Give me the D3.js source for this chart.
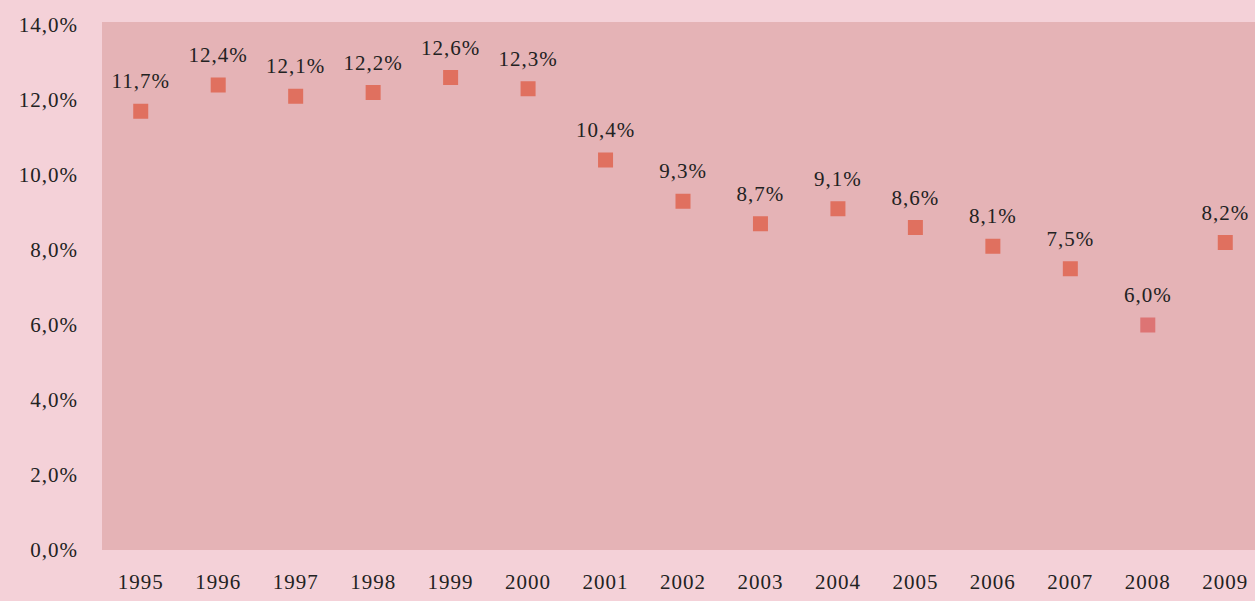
<!DOCTYPE html>
<html>
<head>
<meta charset="utf-8">
<script src="https://cdn.jsdelivr.net/npm/d3@7"></script>
<style>
  body { margin: 0; background: #f4d1d8; }
  svg { display: block; }
</style>
</head>
<body>
<div id="chart"></div>
<script>
// data
const years = ["1995", "1996", "1997", "1998", "1999", "2000", "2001", "2002",
               "2003", "2004", "2005", "2006", "2007", "2008", "2009"];
const rates = [11.7, 12.4, 12.1, 12.2, 12.6, 12.3, 10.4, 9.3,
               8.7, 9.1, 8.6, 8.1, 7.5, 6.0, 8.2];
const yTicks = [0, 2, 4, 6, 8, 10, 12, 14];

const W = 1255, H = 601;
const margin = {top: 22, right: -9, bottom: 51, left: 102};
const serif = "'Liberation Serif', 'Times New Roman', serif";

const svg = d3.select("#chart").append("svg")
    .attr("width", W)
    .attr("height", H)
    .style("font-family", serif);

svg.append("rect")
    .attr("width", W).attr("height", H)
    .attr("fill", "#f4d1d8");

const x = d3.scaleBand()
    .domain(years)
    .range([margin.left, W - margin.right]);

const y = d3.scaleLinear()
    .domain([0, 14])
    .range([H - margin.bottom, margin.top + 3]);

// plot area
svg.append("rect")
    .attr("x", margin.left)
    .attr("y", margin.top)
    .attr("width", W - margin.left)
    .attr("height", H - margin.bottom - margin.top)
    .attr("fill", "#e5b3b6");

const fmt = v => v.toFixed(1).replace(".", ",") + "%";

// y axis
const yAxis = svg.append("g")
    .attr("transform", `translate(${margin.left - 24},0)`)
    .call(d3.axisLeft(y).tickValues(yTicks).tickFormat(fmt).tickSize(0).tickPadding(0))
    .attr("font-family", serif);
yAxis.select(".domain").remove();
yAxis.selectAll("text")
    .attr("fill", "#222")
    .style("font-size", "21px")
    .style("letter-spacing", "1px");

// x axis
const xAxis = svg.append("g")
    .attr("transform", `translate(0,${H - margin.bottom})`)
    .call(d3.axisBottom(x).tickSize(0).tickPadding(24))
    .attr("font-family", serif);
xAxis.select(".domain").remove();
xAxis.selectAll("text")
    .attr("fill", "#222")
    .style("font-size", "21px")
    .style("letter-spacing", "1px");

// markers
const size = 15;
svg.append("g")
    .selectAll("rect")
    .data(years)
    .join("rect")
    .attr("x", d => x(d) + x.bandwidth() / 2 - size / 2)
    .attr("y", (d, i) => y(rates[i]) - size / 2)
    .attr("width", size)
    .attr("height", size)
    .attr("fill", (d, i) => d === "2008" ? "#dd7474" : "#e0705f");

// value labels
svg.append("g")
    .attr("text-anchor", "middle")
    .selectAll("text")
    .data(years)
    .join("text")
    .attr("x", d => x(d) + x.bandwidth() / 2)
    .attr("y", (d, i) => y(rates[i]) - 23)
    .attr("fill", "#222")
    .style("font-size", "21px")
    .style("letter-spacing", "1px")
    .text((d, i) => fmt(rates[i]));
</script>
</body>
</html>
